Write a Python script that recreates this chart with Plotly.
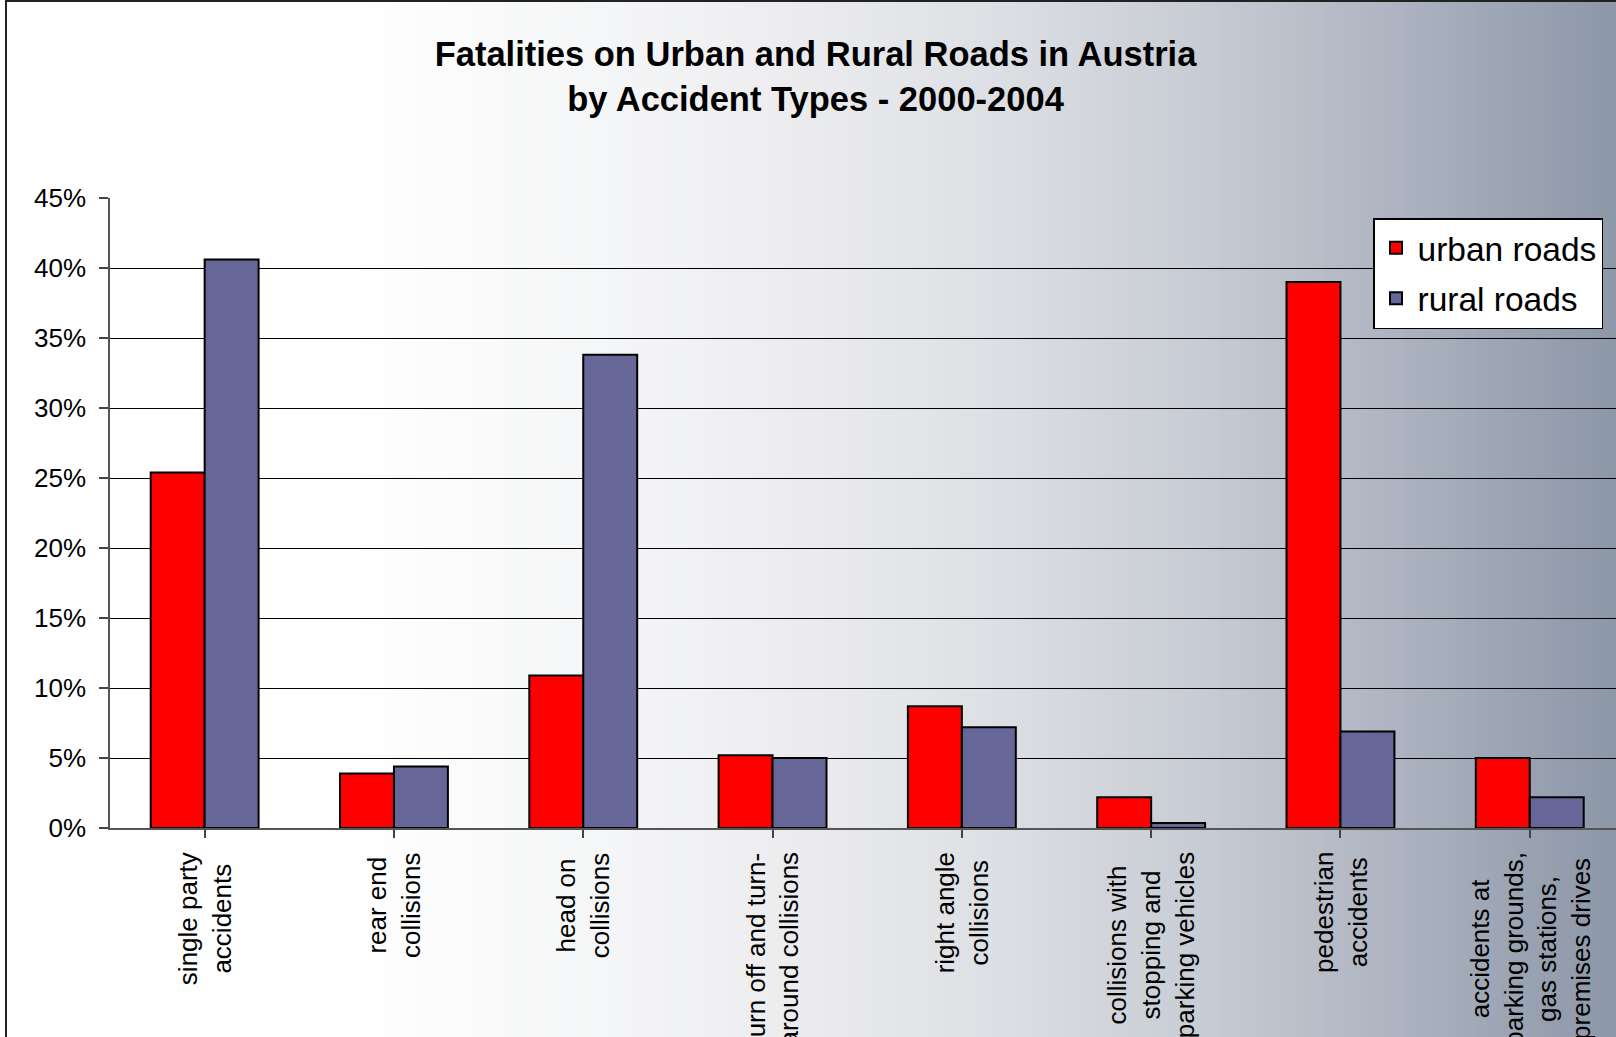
import base64
import struct
import zlib

import plotly.graph_objects as go

# ---------------- data ----------------
categories = [
    "single party accidents",
    "rear end collisions",
    "head on collisions",
    "turn off and turn-around collisions",
    "right angle collisions",
    "collisions with stopping and parking vehicles",
    "pedestrian accidents",
    "accidents at parking grounds, gas stations, premises drives",
]
category_labels = [
    "single party<br>accidents",
    "rear end<br>collisions",
    "head on<br>collisions",
    "turn off and turn-<br>around collisions",
    "right angle<br>collisions",
    "collisions with<br>stopping and<br>parking vehicles",
    "pedestrian<br>accidents",
    "accidents at<br>parking grounds,<br>gas stations,<br>premises drives",
]
urban_roads = [25.4, 3.9, 10.9, 5.2, 8.7, 2.2, 39.0, 5.0]
rural_roads = [40.6, 4.4, 33.8, 5.0, 7.2, 0.35, 6.9, 2.2]
y_ticks = [0, 5, 10, 15, 20, 25, 30, 35, 40, 45]
y_tick_labels = ["0%", "5%", "10%", "15%", "20%", "25%", "30%", "35%", "40%", "45%"]

FONT = "Liberation Sans, Arial, sans-serif"
W, H = 1616, 1037
ML, MR, MT, MB = 110, 0, 198, 209
PW, PH = W - ML - MR, H - MT - MB
CAT_W = 189.3


# ---------------- background gradient image (style only) ----------------
def _hex(c):
    c = c.lstrip("#")
    return [int(c[i:i + 2], 16) for i in (0, 2, 4)]


grad_stops = [(0, "#ffffff"), (350, "#ffffff"), (600, "#f5f6f7"), (800, "#ececef"),
              (1000, "#dcdfe3"), (1200, "#c8ccd4"), (1400, "#adb3c0"), (1616, "#8c97a8")]


def _color_at(px):
    for (x0, c0), (x1, c1) in zip(grad_stops[:-1], grad_stops[1:]):
        if x0 <= px <= x1:
            t = 0 if x1 == x0 else (px - x0) / (x1 - x0)
            a, b = _hex(c0), _hex(c1)
            return [round(a[i] + (b[i] - a[i]) * t) for i in range(3)]
    return _hex(grad_stops[-1][1])


def _png(width):
    row = bytearray([0])
    for i in range(width):
        row += bytes(_color_at((i + 0.5) * W / width))
    raw = bytes(row)

    def chunk(tag, data):
        return struct.pack(">I", len(data)) + tag + data + struct.pack(">I", zlib.crc32(tag + data) & 0xFFFFFFFF)

    return (b"\x89PNG\r\n\x1a\n" + chunk(b"IHDR", struct.pack(">IIBBBBB", width, 1, 8, 2, 0, 0, 0))
            + chunk(b"IDAT", zlib.compress(raw)) + chunk(b"IEND", b""))


grad_uri = "data:image/png;base64," + base64.b64encode(_png(404)).decode()

# ---------------- figure ----------------
fig = go.Figure()
fig.add_trace(go.Bar(
    x=list(range(len(categories))), y=urban_roads, name="urban roads",
    marker=dict(color="#FF0000", line=dict(color="#000000", width=2)),
    legendgroup="u", hovertext=categories,
))
fig.add_trace(go.Bar(
    x=list(range(len(categories))), y=rural_roads, name="rural roads",
    marker=dict(color="#666699", line=dict(color="#000000", width=2)),
    legendgroup="r", hovertext=categories,
))

x_max = -0.5 + PW / CAT_W

fig.update_layout(
    width=W, height=H,
    margin=dict(l=ML, r=MR, t=MT, b=MB, pad=0),
    paper_bgcolor="#ffffff",
    plot_bgcolor="rgba(0,0,0,0)",
    barmode="group", bargap=0.43, bargroupgap=0,
    font=dict(family=FONT, color="#000000"),
    title=dict(
        text="<b>Fatalities on Urban and Rural Roads in Austria</b><br><b>by Accident Types - 2000-2004</b>",
        font=dict(family=FONT, size=34.5, color="#000000"),
        x=815.5 / W, xref="container", xanchor="center",
        y=1 - 66 / H, yref="container", yanchor="middle",
    ),
    showlegend=True,
    legend=dict(
        x=(1373 - ML) / PW, y=(H - MB - 218) / PH, xanchor="left", yanchor="top",
        bgcolor="#ffffff", bordercolor="#000000", borderwidth=1.5,
        font=dict(family=FONT, size=33.5, color="#000000"),
        traceorder="grouped", tracegroupgap=4, itemwidth=33,
    ),
    xaxis=dict(
        range=[-0.5, x_max], tickmode="array", tickvals=list(range(len(categories))),
        ticktext=[""] * len(categories), showticklabels=False,
        tickson="boundaries", ticks="outside", ticklen=8, tickcolor="#444444", tickwidth=1.5,
        showline=True, linecolor="#555555", linewidth=2, showgrid=False, zeroline=False,
        fixedrange=True,
    ),
    yaxis=dict(
        range=[0, 45], tickmode="array", tickvals=y_ticks, ticktext=y_tick_labels,
        ticks="outside", ticklen=9, tickcolor="#444444", tickwidth=1.5,
        showline=True, linecolor="#555555", linewidth=1.5,
        showgrid=True, gridcolor="#000000", gridwidth=1, zeroline=False,
        tickfont=dict(family=FONT, size=26, color="#000000"),
        ticklabelstandoff=8, fixedrange=True,
    ),
    images=[dict(
        source=grad_uri, xref="paper", yref="paper",
        x=-ML / PW, y=(H - MB) / PH, sizex=W / PW, sizey=H / PH,
        xanchor="left", yanchor="top", sizing="stretch", layer="below",
    )],
    shapes=[dict(
        type="rect", xref="paper", yref="paper",
        x0=(6 - ML) / PW, x1=1.2, y0=-1.0, y1=(H - MB - 1) / PH,
        line=dict(color="#222222", width=2), fillcolor="rgba(0,0,0,0)", layer="above",
    )],
)

for i, lab in enumerate(category_labels):
    fig.add_annotation(
        x=i, xref="x", y=0, yref="paper", yshift=-22,
        text=lab, textangle=-90, showarrow=False,
        xanchor="center", yanchor="top", align="center",
        font=dict(family=FONT, size=26, color="#000000"),
    )

fig.write_html(
    "out.html",
    config={"displayModeBar": False},
    post_script="document.body.style.margin='0';document.body.style.overflow='hidden';",
)
